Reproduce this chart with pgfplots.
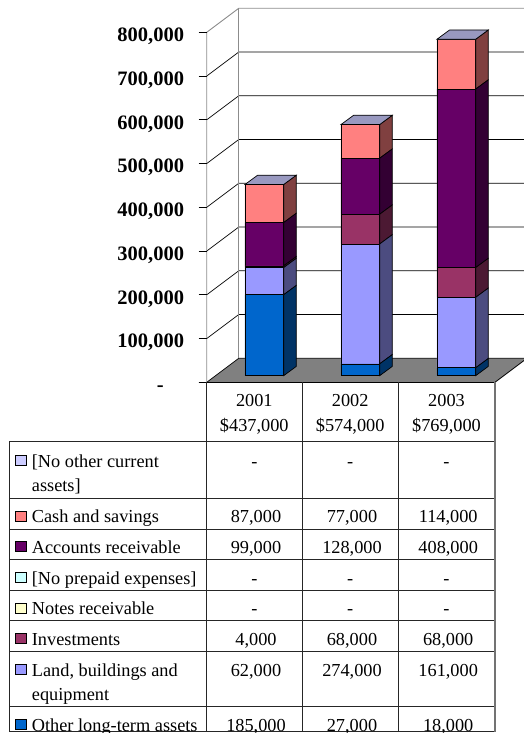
\documentclass[border=0pt]{standalone}
\usepackage{pgfplots}
\usepackage{pgfplotstable}
\pgfplotsset{compat=1.18}
\usepackage{fontspec}
\setmainfont{Liberation Serif}
\definecolor{olt}{HTML}{0066CC}
\definecolor{oltS}{HTML}{003366}
\definecolor{land}{HTML}{9999FF}
\definecolor{landS}{HTML}{4C4C80}
\definecolor{inv}{HTML}{993366}
\definecolor{invS}{HTML}{4C1933}
\definecolor{ar}{HTML}{660066}
\definecolor{arS}{HTML}{330033}
\definecolor{cash}{HTML}{FF8080}
\definecolor{cashS}{HTML}{804040}
\definecolor{topF}{HTML}{9999C0}
\definecolor{oca}{HTML}{CCCCFF}
\definecolor{prep}{HTML}{CCFFFF}
\definecolor{notes}{HTML}{FFFFCC}
\definecolor{floorc}{HTML}{808080}
\definecolor{wallg}{HTML}{8C8C8C}

\pgfplotstableread{
year olt land inv notes prep ar cash oca
0 185000 62000 4000 0 0 99000 87000 0
1 27000 274000 68000 0 0 128000 77000 0
2 18000 161000 68000 0 0 408000 114000 0
}\assets

\pgfplotsset{
  geom/.style={scale only axis, width=317.3pt, height=374.3pt,
    xmin=-0.5, xmax=2.8052, ymin=0, ymax=855543, hide axis,
    at={(206.7pt,-382.3pt)}, anchor=south west},
  face/.style={draw=black, line width=0.7pt},
}

\begin{document}
\begin{tikzpicture}
\path[use as bounding box] (0,0) rectangle (524pt,-733pt);
\clip (0,0) rectangle (524pt,-733pt);
\begin{scope}[x=1pt,y=-1pt]
  % floor
  \fill[floorc] (206.7,382.3) -- (495,382.3) -- (527,358.3) -- (238.7,358.3) -- cycle;
  % side wall and back wall gridlines
  \foreach \k in {0,...,7}{
    \pgfmathsetmacro\yy{382.3-43.75*\k}
    \pgfmathsetmacro\yb{\yy-24}
    \draw[black, line width=0.7pt] (206.7,\yy) -- (238.7,\yb) -- (530,\yb);
  }
  % top gray edges and vertical edges
  \draw[wallg, line width=0.9pt] (206.7,382.3) -- (206.7,32.3) -- (238.7,8.3) -- (530,8.3);
  \draw[wallg, line width=0.9pt] (238.7,358.3) -- (238.7,8.3);
  % ticks
  \foreach \k in {0,...,8}{
    \pgfmathsetmacro\yy{382.3-43.75*\k}
    \draw[black, line width=0.7pt] (198.7,\yy) -- (206.7,\yy);
  }
  \draw[black, line width=0.8pt] (495,382.3) -- (527,358.3);
  % y tick labels
  \begin{scope}[every node/.style={inner sep=0pt, anchor=base east, font=\fontsize{20.5}{24}\selectfont\bfseries}]
    \node at (184.3,391.7) {-\phantom{00}};
    \foreach \k in {1,...,8}{
      \pgfmathsetmacro\yy{382.3-43.75*\k+9.4}
      \node at (184.3,\yy) {\k00,000};
    }
  \end{scope}
\end{scope}

% front faces
\begin{axis}[geom, ybar stacked, bar width=0.403, bar shift=0.1]
  \addplot[draw=none, fill=none] coordinates {(0,15100) (1,15100) (2,15100)};
  \addplot[face, fill=olt]  table[x=year, y=olt]  {\assets};
  \addplot[face, fill=land] table[x=year, y=land] {\assets};
  \addplot[face, fill=inv]  table[x=year, y=inv]  {\assets};
  \addplot[face, fill=ar]   table[x=year, y=ar]   {\assets};
  \addplot[face, fill=cash] table[x=year, y=cash] {\assets};
\end{axis}

% side faces 2001
\begin{axis}[geom, stack plots=y]
  \addplot[draw=none] coordinates {(0.3015,15100) (0.4335,36400)};
  \addplot[face, fill=oltS]  coordinates {(0.3015,185000) (0.4335,185000)} \closedcycle;
  \addplot[face, fill=landS] coordinates {(0.3015,62000) (0.4335,62000)} \closedcycle;
  \addplot[face, fill=invS]  coordinates {(0.3015,4000) (0.4335,4000)} \closedcycle;
  \addplot[face, fill=arS]   coordinates {(0.3015,99000) (0.4335,99000)} \closedcycle;
  \addplot[face, fill=cashS] coordinates {(0.3015,87000) (0.4335,87000)} \closedcycle;
\end{axis}
% side faces 2002
\begin{axis}[geom, stack plots=y]
  \addplot[draw=none] coordinates {(1.3015,15100) (1.4335,36400)};
  \addplot[face, fill=oltS]  coordinates {(1.3015,27000) (1.4335,27000)} \closedcycle;
  \addplot[face, fill=landS] coordinates {(1.3015,274000) (1.4335,274000)} \closedcycle;
  \addplot[face, fill=invS]  coordinates {(1.3015,68000) (1.4335,68000)} \closedcycle;
  \addplot[face, fill=arS]   coordinates {(1.3015,128000) (1.4335,128000)} \closedcycle;
  \addplot[face, fill=cashS] coordinates {(1.3015,77000) (1.4335,77000)} \closedcycle;
\end{axis}
% side faces 2003
\begin{axis}[geom, stack plots=y]
  \addplot[draw=none] coordinates {(2.3015,15100) (2.4335,36400)};
  \addplot[face, fill=oltS]  coordinates {(2.3015,18000) (2.4335,18000)} \closedcycle;
  \addplot[face, fill=landS] coordinates {(2.3015,161000) (2.4335,161000)} \closedcycle;
  \addplot[face, fill=invS]  coordinates {(2.3015,68000) (2.4335,68000)} \closedcycle;
  \addplot[face, fill=arS]   coordinates {(2.3015,408000) (2.4335,408000)} \closedcycle;
  \addplot[face, fill=cashS] coordinates {(2.3015,114000) (2.4335,114000)} \closedcycle;
\end{axis}
% top faces (totals 437000, 574000, 769000 on a base of 15100)
\begin{axis}[geom]
  \addplot[face, fill=topF] coordinates {(-0.1015,452100) (0.3015,452100) (0.4335,473400) (0.0305,473400)} --cycle;
  \addplot[face, fill=topF] coordinates {(0.8985,589100) (1.3015,589100) (1.4335,610400) (1.0305,610400)} --cycle;
  \addplot[face, fill=topF] coordinates {(1.8985,784100) (2.3015,784100) (2.4335,805400) (2.0305,805400)} --cycle;
\end{axis}

% data table
\begin{scope}[x=1pt,y=-1pt]
  \draw[black, line width=0.9pt] (198.7,382.3) -- (495,382.3);
  \foreach \yy in {441.7,498.3,529,559.7,590.3,620.7,651.7,706.7,731.7}{
    \draw[black!85, line width=0.9pt] (9,\yy) -- (494.7,\yy);
  }
  \foreach \xx in {206.7,302,398.3}{
    \draw[black!85, line width=0.9pt] (\xx,382.3) -- (\xx,731.7);
  }
  \draw[black!55, line width=1.6pt] (494.7,382.3) -- (494.7,732.2);
  \draw[black!85, line width=0.9pt] (9,441.7) -- (9,731.7);
  \begin{scope}[every node/.style={inner sep=0pt, font=\fontsize{18.3}{24}\selectfont}]
    % header
    \node[anchor=base] at (254.3,406.7) {2001};
    \node[anchor=base] at (350.2,406.7) {2002};
    \node[anchor=base] at (446.5,406.7) {2003};
    \node[anchor=base] at (254.3,431.7) {\$437,000};
    \node[anchor=base] at (350.2,431.7) {\$574,000};
    \node[anchor=base] at (446.5,431.7) {\$769,000};
    % legend squares
    \foreach \b/\c in {467.3/oca,522.9/cash,553.6/ar,584.3/prep,614.9/notes,645.6/inv,676.3/land,731.3/olt}{
      \filldraw[fill=\c, draw=black, line width=0.8pt] (15.5,\b-12) rectangle (26,\b-2);
    }
    % labels
    \node[anchor=base west] at (31.7,467.3) {[No other current};
    \node[anchor=base west] at (31.7,491.7) {assets]};
    \node[anchor=base west] at (31.7,522.9) {Cash and savings};
    \node[anchor=base west] at (31.7,553.6) {Accounts receivable};
    \node[anchor=base west] at (31.7,584.3) {[No prepaid expenses]};
    \node[anchor=base west] at (31.7,614.9) {Notes receivable};
    \node[anchor=base west] at (31.7,645.6) {Investments};
    \node[anchor=base west] at (31.7,676.3) {Land, buildings and};
    \node[anchor=base west] at (31.7,700.7) {equipment};
    \node[anchor=base west] at (31.7,731.3) {Other long-term assets};
    % values
    \foreach \b in {467.3,584.3,614.9}{
      \node[anchor=base] at (254.3,\b) {-};
      \node[anchor=base] at (350.2,\b) {-};
      \node[anchor=base] at (446.5,\b) {-};
    }
    \node[anchor=base] at (256,522.9) {87,000};
    \node[anchor=base] at (352,522.9) {77,000};
    \node[anchor=base] at (448.2,522.9) {114,000};
    \node[anchor=base] at (256,553.6) {99,000};
    \node[anchor=base] at (352,553.6) {128,000};
    \node[anchor=base] at (448.2,553.6) {408,000};
    \node[anchor=base] at (256,645.6) {4,000};
    \node[anchor=base] at (352,645.6) {68,000};
    \node[anchor=base] at (448.2,645.6) {68,000};
    \node[anchor=base] at (256,676.3) {62,000};
    \node[anchor=base] at (352,676.3) {274,000};
    \node[anchor=base] at (448.2,676.3) {161,000};
    \node[anchor=base] at (256,731.3) {185,000};
    \node[anchor=base] at (352,731.3) {27,000};
    \node[anchor=base] at (448.2,731.3) {18,000};
  \end{scope}
\end{scope}
\end{tikzpicture}
\end{document}
